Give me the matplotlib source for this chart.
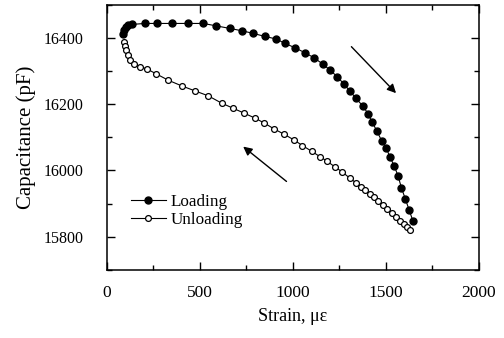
import matplotlib
matplotlib.use("Agg")
import matplotlib.pyplot as plt
from matplotlib.ticker import MultipleLocator

# 하중 곡선 (Loading)
load_strain = [88, 91, 102, 113, 134, 204, 269, 348, 437, 518, 586, 661, 726, 787,
               849, 912, 957, 1011, 1064, 1113, 1160, 1199, 1238, 1274, 1309, 1339,
               1375, 1405, 1426, 1452, 1478, 1503, 1521, 1546, 1566, 1584, 1605,
               1625, 1645]
load_cap = [16411, 16422, 16432, 16437, 16440, 16443, 16443, 16443, 16443, 16443,
            16436, 16428, 16421, 16413, 16404, 16396, 16383, 16370, 16355, 16340,
            16321, 16303, 16283, 16261, 16238, 16218, 16195, 16171, 16146, 16119,
            16089, 16067, 16042, 16013, 15983, 15948, 15914, 15882, 15849]

# 제하 곡선 (Unloading)
unload_strain = [91, 97, 105, 113, 126, 145, 177, 215, 266, 330, 402, 473, 545, 617,
                 677, 737, 796, 846, 900, 954, 1006, 1052, 1101, 1145, 1184, 1226,
                 1267, 1306, 1342, 1366, 1390, 1414, 1435, 1460, 1484, 1508, 1532,
                 1554, 1575, 1597, 1613, 1629]
unload_cap = [16388, 16375, 16362, 16348, 16334, 16322, 16313, 16306, 16291, 16272,
              16255, 16240, 16225, 16203, 16188, 16173, 16158, 16143, 16125, 16109,
              16092, 16075, 16058, 16042, 16028, 16011, 15995, 15977, 15962, 15951,
              15940, 15930, 15919, 15907, 15895, 15885, 15873, 15861, 15849, 15838,
              15831, 15820]

x_ticks = [0, 500, 1000, 1500, 2000]
y_ticks = [15800, 16000, 16200, 16400]

plt.rcParams['font.family'] = ['Liberation Serif', 'DejaVu Serif']
plt.rcParams['font.size'] = 12

fig = plt.figure(figsize=(5.04, 3.38), dpi=100)
ax = fig.add_axes([0.212, 0.201, 0.738, 0.7856])

ax.plot(load_strain, load_cap, '-o', color='black', lw=0.8, ms=5,
        mfc='black', mec='black', label='Loading')
ax.plot(unload_strain, unload_cap, '-o', color='black', lw=0.8, ms=4.2,
        mfc='white', mec='black', mew=0.9, label='Unloading')

# 화살표
ax.annotate('', xy=(1555, 16233), xytext=(1315, 16373),
            arrowprops=dict(arrowstyle='-|>', color='black', lw=1,
                            mutation_scale=13, shrinkA=0, shrinkB=0))
ax.annotate('', xy=(733, 16072), xytext=(966, 15967),
            arrowprops=dict(arrowstyle='-|>', color='black', lw=1,
                            mutation_scale=13, shrinkA=0, shrinkB=0))

ax.set_xlim(0, 2000)
ax.set_ylim(15700, 16500)
ax.set_xticks(x_ticks)
ax.set_yticks(y_ticks)
ax.xaxis.set_minor_locator(MultipleLocator(250))
ax.yaxis.set_minor_locator(MultipleLocator(100))
ax.tick_params(which='both', direction='in', top=True, right=True, width=1)
ax.tick_params(which='major', length=5.5)
ax.tick_params(which='minor', length=3.5)
ax.tick_params(axis='x', which='major', pad=11, labelsize=12.5)
ax.tick_params(axis='y', which='major', pad=17, labelsize=11.5)
for s in ax.spines.values():
    s.set_linewidth(1.1)

ax.set_xlabel('Strain, με', labelpad=5, fontsize=13)
ax.set_ylabel('Capacitance (pF)', labelpad=5, fontsize=15)

ax.legend(loc='center left', bbox_to_anchor=(0.066, 0.222), frameon=False,
          borderpad=0, borderaxespad=0, handlelength=2.0, handletextpad=0.3,
          labelspacing=0.1, fontsize=12.3)

fig.savefig('out.png', dpi=100)
